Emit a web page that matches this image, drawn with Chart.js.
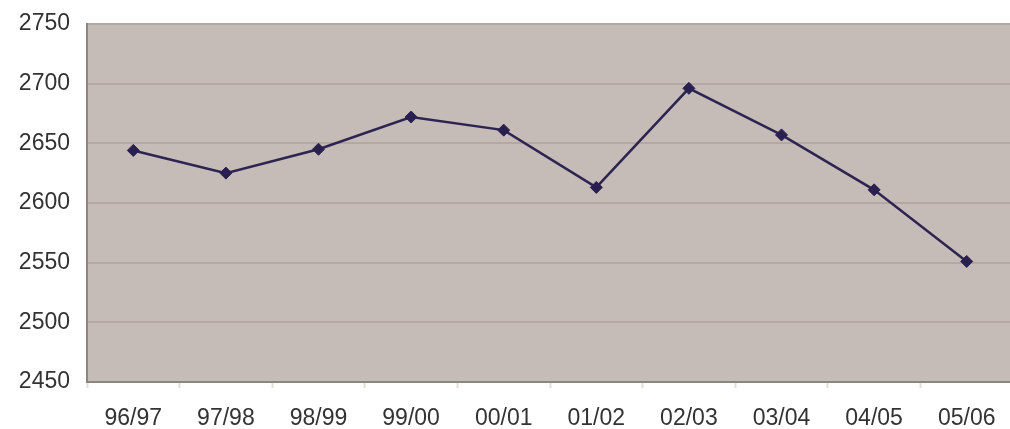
<!DOCTYPE html>
<html>
<head>
<meta charset="utf-8">
<script src="https://cdn.jsdelivr.net/npm/chart.js@4.4.0/dist/chart.umd.min.js"></script>
<style>
  html, body { margin: 0; padding: 0; background: #ffffff; overflow: hidden; }
  #wrap { width: 1020px; height: 429px; position: relative; }
</style>
</head>
<body>
<div id="wrap"><canvas id="students"></canvas></div>
<script>
// Schuljahre und Werte
var jahre = ["96/97", "97/98", "98/99", "99/00", "00/01", "01/02", "02/03", "03/04", "04/05", "05/06"];
var anzahl = [2644, 2625, 2645, 2672, 2661, 2613, 2696, 2657, 2611, 2551];
var yMin = 2450;
var yMax = 2750;
var yStep = 50;

// Hintergrund der Zeichenfläche
var plotBackground = {
  id: 'plotBackground',
  beforeDraw: function(chart) {
    var a = chart.chartArea;
    var ctx = chart.ctx;
    ctx.save();
    ctx.fillStyle = "#c5bcb7";
    ctx.fillRect(a.left, a.top, a.right - a.left, a.bottom - a.top);
    ctx.restore();
  }
};

var chartdata = {
  labels: jahre,
  datasets: [
    {
      data: anzahl,
      borderColor: "#2e2452",
      borderWidth: 2.5,
      backgroundColor: "#2a2050",
      pointStyle: 'rectRot',
      pointRadius: 6,
      pointBorderWidth: 1,
      pointBorderColor: "#2a2050",
      tension: 0
    }
  ]
};

var ctx = document.getElementById("students");
var myChart = new Chart(ctx, {
  type: 'line',
  data: chartdata,
  plugins: [plotBackground],
  options: {
    responsive: true,
    maintainAspectRatio: false,
    animation: false,
    layout: {
      padding: { top: 20, right: 0, left: 0, bottom: 0 }
    },
    plugins: {
      legend: { display: false },
      tooltip: { enabled: false },
      title: { display: false }
    },
    scales: {
      x: {
        offset: true,
        grid: {
          offset: true,
          drawOnChartArea: false,
          drawTicks: true,
          tickLength: 6,
          tickColor: "#e6dcd8",
          tickWidth: 2
        },
        border: { color: "#8c8682", width: 2 },
        ticks: {
          color: "#333333",
          padding: 17,
          maxRotation: 0,
          font: { family: "'Liberation Sans', Arial, sans-serif", size: 23 }
        },
        afterFit: function(scale) { scale.height = 47; }
      },
      y: {
        min: yMin,
        max: yMax,
        grid: {
          color: "#b4a9a2",
          lineWidth: 2,
          drawTicks: false
        },
        border: { color: "#8c8682", width: 2 },
        ticks: {
          stepSize: yStep,
          color: "#333333",
          padding: 17,
          font: { family: "'Liberation Sans', Arial, sans-serif", size: 23, lineHeight: 0.6 },
          callback: function(v) { return String(v); }
        },
        afterFit: function(scale) { scale.width = 87; }
      }
    }
  }
});
</script>
</body>
</html>
